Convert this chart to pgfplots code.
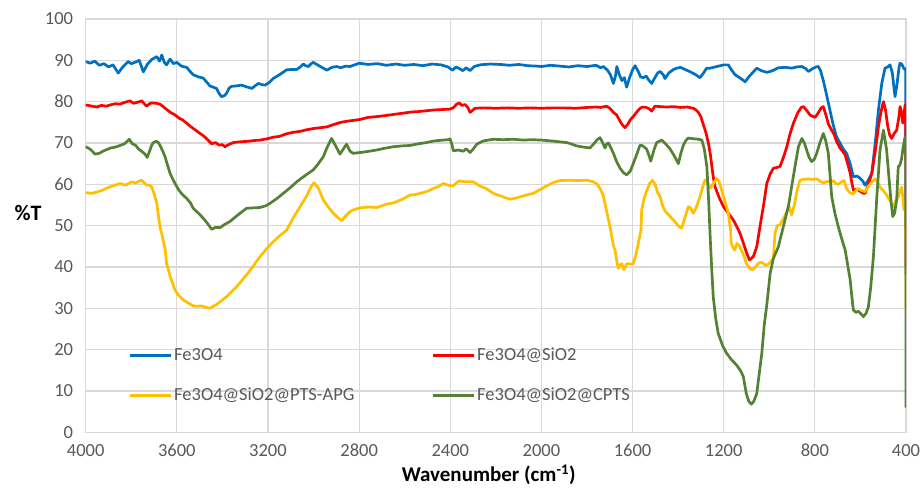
\documentclass[border=0pt]{standalone}
\usepackage{fontspec}
\setmainfont{Carlito}
\usepackage{pgfplots}
\usepackage{pgfplotstable}
\pgfplotsset{compat=1.18}
\definecolor{cblue}{HTML}{0070C0}
\definecolor{cred}{HTML}{FF0000}
\definecolor{cyellow}{HTML}{FFC000}
\definecolor{cgreen}{HTML}{548235}
\definecolor{gridgray}{HTML}{D9D9D9}
\definecolor{labelgray}{HTML}{595959}

\pgfplotstableread{
x y
4000 89.7
3980 89.3
3960 89.8
3940 88.8
3920 89.2
3900 88.4
3880 88.9
3857 86.9
3840 88.2
3814 89.7
3800 89.2
3780 89.6
3765 90.0
3747 87.2
3730 89.0
3710 90.2
3688 90.9
3676 89.8
3666 91.3
3655 89.5
3645 88.9
3630 90.3
3615 89.2
3600 89.5
3580 88.6
3557 88.3
3540 87.2
3528 86.5
3505 86.0
3484 85.7
3470 84.8
3455 83.8
3440 83.5
3426 83.2
3415 82.0
3404 81.2
3390 81.5
3382 82.0
3370 83.3
3360 83.7
3340 83.8
3316 84.0
3295 83.6
3271 83.2
3255 83.9
3242 84.4
3225 84.1
3213 84.0
3195 84.6
3177 85.6
3150 86.5
3118 87.7
3095 87.8
3074 87.8
3060 88.3
3045 89.1
3035 88.7
3023 88.5
3010 89.2
3001 89.5
2980 88.8
2960 88.2
2942 87.6
2920 88.3
2898 88.5
2880 88.2
2860 88.6
2840 88.5
2820 88.9
2800 89.3
2760 89.0
2720 89.2
2680 88.8
2640 89.1
2600 88.8
2560 89.0
2520 88.7
2480 89.1
2440 88.9
2410 88.4
2390 87.6
2375 88.4
2360 88.0
2345 87.5
2330 88.2
2313 87.5
2295 88.5
2270 88.9
2225 89.1
2180 89.0
2140 88.8
2100 89.0
2060 88.7
2020 88.6
2000 88.5
1960 88.8
1920 88.6
1880 88.4
1840 88.7
1800 88.5
1760 88.8
1740 88.2
1728 88.5
1710 87.6
1697 86.5
1684 84.4
1675 86.2
1669 88.5
1660 86.8
1647 85.1
1636 85.8
1626 83.5
1615 85.5
1600 87.7
1589 88.7
1575 87.3
1565 86.0
1553 85.8
1540 86.2
1530 85.3
1516 84.4
1500 86.0
1489 87.0
1479 87.3
1465 86.5
1458 85.6
1440 87.0
1420 87.8
1406 88.1
1390 88.3
1370 87.8
1350 87.3
1325 86.6
1304 85.8
1290 86.8
1275 88.1
1260 88.1
1230 88.5
1200 88.9
1180 88.9
1165 87.6
1150 86.5
1130 85.8
1115 85.2
1106 84.8
1090 86.0
1070 87.2
1055 88.1
1035 87.5
1010 87.1
990 87.4
960 88.2
930 88.3
901 88.1
880 88.4
857 88.5
840 88.0
828 87.3
810 88.0
795 88.4
784 88.5
775 87.5
763 85.1
750 82.0
734 78.0
720 74.5
705 71.5
690 70.0
675 68.5
661 67.5
645 65.0
631 61.8
615 62.0
602 61.5
590 60.8
580 59.8
565 61.0
550 62.7
535 70.0
521 78.0
506 84.5
492 88.1
480 88.4
470 88.9
460 87.0
452 83.0
448 81.2
440 84.0
430 88.5
426 89.3
418 89.0
412 88.3
404 87.7
401 88.0
400 38.0
}\tblue

\pgfplotstableread{
x y
4000 79.2
3980 79.0
3952 78.7
3930 79.1
3910 78.9
3893 79.2
3870 79.5
3850 79.4
3830 79.8
3806 80.2
3790 79.6
3770 79.9
3754 80.2
3743 79.5
3733 78.9
3720 79.5
3711 79.7
3690 79.6
3674 79.4
3660 78.8
3640 77.9
3625 77.3
3608 76.8
3590 76.0
3575 75.6
3557 74.8
3540 74.0
3520 73.2
3498 72.3
3480 71.6
3465 70.8
3447 69.8
3430 70.1
3415 69.5
3400 69.6
3389 69.1
3370 69.7
3352 70.1
3320 70.3
3290 70.4
3260 70.6
3235 70.7
3205 71.0
3177 71.4
3150 71.6
3120 72.2
3089 72.6
3060 72.8
3030 73.2
3000 73.5
2970 73.7
2942 73.9
2910 74.5
2880 75.0
2850 75.3
2820 75.5
2796 75.7
2760 76.2
2720 76.4
2690 76.6
2650 76.9
2610 77.2
2570 77.5
2540 77.6
2506 77.8
2470 78.0
2430 78.1
2401 78.2
2385 78.6
2372 79.4
2360 79.7
2350 79.1
2335 79.3
2322 78.5
2313 77.4
2300 78.0
2291 78.4
2250 78.5
2200 78.4
2150 78.5
2100 78.4
2050 78.5
2000 78.4
1950 78.5
1900 78.5
1850 78.4
1800 78.6
1760 78.7
1740 78.6
1714 78.9
1700 78.4
1684 77.4
1670 76.8
1655 75.3
1645 74.4
1633 73.7
1620 74.6
1610 75.6
1597 76.4
1580 77.6
1565 78.5
1553 78.7
1540 78.6
1525 78.2
1516 77.7
1508 78.4
1502 78.9
1480 78.8
1450 78.7
1420 78.8
1390 78.6
1360 78.7
1333 78.4
1322 78.0
1311 77.4
1300 76.3
1289 74.4
1278 72.5
1267 69.9
1258 67.0
1252 64.3
1245 61.5
1238 59.4
1220 56.8
1201 54.6
1180 53.0
1158 51.4
1143 49.8
1128 48.1
1115 46.0
1100 43.5
1087 41.7
1070 42.5
1055 44.9
1041 49.7
1025 55.0
1011 60.2
996 62.5
982 63.9
965 64.1
953 64.3
938 66.5
923 69.1
910 72.0
894 74.8
875 77.3
860 78.6
850 78.8
835 77.8
820 76.7
799 76.2
785 77.3
772 78.5
763 78.8
750 76.5
740 74.5
726 73.1
715 72.0
704 70.3
690 68.8
678 68.0
667 67.1
656 65.0
645 62.7
638 60.5
631 58.6
615 58.8
600 58.3
590 57.9
580 57.8
565 60.0
550 62.7
535 68.0
521 73.9
510 77.5
499 80.0
490 78.0
480 74.0
472 72.0
463 71.1
452 72.3
441 73.1
432 76.0
426 78.8
420 77.5
414 74.8
409 77.0
404 79.2
401 79.0
400 40.0
}\tred

\pgfplotstableread{
x y
4000 58.0
3975 57.8
3952 58.1
3930 58.5
3910 59.0
3893 59.4
3870 59.8
3849 60.2
3825 59.8
3798 60.6
3780 60.3
3765 60.8
3754 61.0
3745 60.5
3733 59.8
3720 59.8
3711 59.4
3700 57.8
3688 55.4
3674 49.7
3662 47.0
3652 44.5
3645 40.9
3628 37.5
3608 34.4
3590 33.0
3572 32.0
3550 31.3
3528 30.6
3510 30.5
3492 30.6
3470 30.2
3455 30.0
3440 30.5
3426 30.9
3405 31.8
3382 32.8
3360 34.0
3338 35.2
3315 36.7
3294 38.1
3265 40.2
3235 42.5
3205 44.5
3177 46.1
3150 47.5
3118 48.9
3090 51.8
3059 54.6
3030 57.2
3010 59.5
2998 60.4
2980 59.2
2957 56.2
2935 54.5
2913 53.0
2895 52.0
2876 51.2
2860 52.3
2840 53.4
2826 53.8
2796 54.3
2760 54.5
2723 54.4
2700 54.8
2679 55.2
2650 55.5
2610 56.4
2577 57.4
2555 57.5
2533 57.8
2500 58.3
2474 59.0
2450 59.5
2431 60.2
2410 59.8
2387 59.6
2370 60.5
2357 60.8
2330 60.6
2299 60.6
2270 59.6
2240 58.9
2211 57.8
2180 57.2
2160 56.8
2138 56.4
2110 56.7
2079 57.2
2060 57.5
2036 57.8
2000 58.9
1977 59.6
1950 60.4
1918 60.9
1880 61.0
1840 60.9
1800 61.0
1772 60.6
1755 60.0
1743 59.0
1730 57.5
1721 55.4
1710 52.5
1699 49.7
1684 45.2
1677 44.1
1668 41.0
1662 39.7
1655 40.5
1647 40.8
1640 39.4
1636 39.5
1628 40.6
1619 40.8
1608 40.7
1597 40.8
1585 43.0
1575 45.7
1563 49.0
1560 53.8
1550 56.5
1538 58.4
1525 60.2
1512 61.0
1500 59.8
1490 58.0
1479 57.0
1468 54.8
1458 53.6
1440 52.5
1421 51.4
1400 50.0
1390 49.5
1384 49.4
1370 52.0
1355 54.6
1345 54.2
1333 53.0
1320 54.5
1304 57.0
1290 59.8
1282 61.0
1270 60.5
1260 59.0
1245 60.2
1231 61.4
1220 60.6
1209 58.6
1195 56.0
1180 53.0
1170 49.0
1167 45.7
1160 44.8
1152 44.1
1142 45.7
1130 45.0
1123 44.1
1110 42.5
1101 40.9
1085 39.6
1074 39.3
1060 40.0
1049 40.8
1038 41.2
1027 40.9
1015 40.4
1006 40.6
995 41.2
982 42.1
975 48.1
965 50.0
953 50.2
940 51.5
923 53.4
912 54.5
902 52.6
890 55.0
878 58.5
865 61.0
850 61.2
830 61.3
810 61.2
792 61.3
778 60.8
763 60.3
745 60.7
730 60.5
719 60.9
708 60.2
697 60.0
685 60.5
672 60.9
661 59.0
647 58.0
632 57.6
620 58.5
610 59.0
595 58.5
580 58.2
565 59.5
550 60.5
536 61.3
525 60.5
514 59.3
500 58.5
485 57.4
470 56.0
456 54.6
445 56.0
434 57.0
426 58.5
419 59.3
414 57.0
409 53.8
404 55.0
401 56.0
400 30.0
}\tyellow

\pgfplotstableread{
x y
4000 69.1
3980 68.5
3959 67.3
3940 67.5
3925 68.0
3908 68.4
3890 68.8
3870 69.0
3849 69.4
3830 69.8
3820 70.3
3809 70.9
3795 69.8
3780 69.4
3769 68.6
3750 67.8
3738 67.2
3730 66.5
3720 68.0
3710 69.5
3703 70.1
3690 70.4
3681 70.1
3670 69.0
3660 67.8
3652 66.7
3640 64.5
3630 62.7
3620 61.5
3608 60.2
3590 58.5
3575 57.5
3557 56.6
3540 55.5
3528 54.2
3505 53.0
3484 51.8
3465 50.5
3447 49.1
3430 49.6
3411 49.5
3390 50.3
3367 51.0
3345 52.0
3323 53.0
3294 54.2
3265 54.3
3235 54.4
3210 54.8
3191 55.4
3160 56.6
3133 57.8
3100 59.3
3074 60.6
3040 62.0
3001 63.5
2980 64.9
2957 66.7
2940 69.0
2921 71.1
2905 69.5
2884 67.3
2870 68.5
2855 69.7
2840 68.0
2826 67.5
2780 67.8
2723 68.3
2690 68.7
2650 69.1
2610 69.3
2577 69.4
2540 69.8
2506 70.1
2470 70.5
2431 70.7
2410 70.8
2401 71.0
2392 69.5
2387 68.1
2365 68.3
2343 68.0
2330 68.6
2313 67.7
2300 68.5
2284 69.7
2270 70.1
2255 70.5
2211 70.9
2170 70.8
2123 70.9
2080 70.7
2040 70.8
2000 70.7
1977 70.6
1940 70.4
1889 70.1
1870 69.8
1846 69.3
1815 69.0
1787 68.8
1770 69.8
1755 70.8
1743 71.3
1735 70.5
1721 68.8
1713 69.8
1706 70.0
1695 68.8
1684 67.5
1670 65.5
1655 63.9
1640 62.8
1626 62.3
1610 63.2
1597 65.0
1580 67.5
1567 69.5
1555 69.3
1538 68.5
1528 67.0
1520 65.6
1505 68.5
1494 70.1
1472 70.7
1455 69.8
1436 68.6
1418 67.0
1399 65.0
1388 67.5
1377 69.5
1365 70.7
1355 71.2
1330 71.0
1310 70.9
1296 70.7
1285 68.5
1274 64.3
1266 56.0
1260 48.1
1253 40.0
1246 32.8
1235 27.5
1224 23.9
1205 21.0
1187 19.1
1165 17.5
1144 16.3
1125 14.8
1114 13.5
1101 9.4
1090 7.5
1079 6.8
1068 7.5
1055 9.4
1033 19.0
1022 26.0
1011 30.8
996 38.5
982 42.1
960 44.9
953 46.5
931 51.4
915 55.0
902 59.4
885 65.0
872 69.1
857 71.1
846 70.0
836 68.3
825 66.5
814 65.5
803 66.0
792 67.5
778 70.0
763 72.3
752 70.5
741 67.5
733 62.0
726 57.0
712 53.0
697 49.7
682 46.8
667 44.1
656 40.5
645 36.9
638 33.0
631 29.6
620 29.0
610 29.3
600 28.8
587 28.0
575 28.8
565 30.4
555 35.0
543 42.5
528 57.0
514 68.3
499 73.1
485 68.3
477 63.0
470 58.6
464 55.0
458 52.2
450 53.0
441 56.2
434 64.3
428 64.5
420 66.0
412 69.1
404 71.5
401 71.0
400 6.0
}\tgreen

\begin{document}
\begin{tikzpicture}
\begin{axis}[
  scale only axis, width=820.3pt, height=413.3pt,
  x dir=reverse, xmin=400, xmax=4000, ymin=0, ymax=100,
  xtick={400,800,...,4000}, ytick={0,10,...,100},
  grid=major, major grid style={draw=gridgray, line width=1.1pt},
  axis line style={draw=gridgray, line width=1.1pt},
  major tick length=0pt,
  tick label style={font=\fontsize{18.5}{20}\selectfont, text=labelgray},
  /pgf/number format/assume math mode=true,
  /pgf/number format/1000 sep={},
  xticklabel style={anchor=base, inner sep=0pt, yshift=-23.7pt},
  yticklabel style={anchor=east, inner sep=0pt, xshift=-12.4pt},
  xlabel={Wavenumber (cm\textsuperscript{-1})},
  xlabel style={at={(axis description cs:0.4913,0)}, anchor=base, inner sep=0pt, yshift=-49.5pt, font=\bfseries\fontsize{21}{24}\selectfont},
  ylabel={\%T},
  ylabel style={rotate=-90, at={(axis description cs:0,0.53)}, anchor=center, inner sep=0pt, xshift=-57.7pt, font=\bfseries\fontsize{22}{24}\selectfont},
  legend columns=2, legend cell align=left,
  legend image code/.code={\draw[#1, line width=2.7pt] (0pt,0pt) -- (41pt,0pt);},
  legend style={draw=none, fill=none, inner sep=0pt, outer sep=0pt,
    at={(axis description cs:0.0528,0.21)}, anchor=north west,
    font=\fontsize{18.5}{20}\selectfont, text=labelgray,
    nodes={inner sep=1.5pt, text height=13pt, text depth=4pt},
    row sep=20pt,
    /tikz/every even column/.append style={column sep=76pt}},
]
\addplot[cblue, line width=2.7pt, line join=round] table {\tblue};
\addlegendentry{Fe3O4}
\addplot[cred, line width=2.7pt, line join=round] table {\tred};
\addlegendentry{Fe3O4@SiO2}
\addplot[cyellow, line width=2.7pt, line join=round] table {\tyellow};
\addlegendentry{Fe3O4@SiO2@PTS-APG}
\addplot[cgreen, line width=2.7pt, line join=round] table {\tgreen};
\addlegendentry{Fe3O4@SiO2@CPTS}
\end{axis}
\pgfresetboundingbox
\path[use as bounding box] (-85.7pt,-62.7pt) rectangle (834.3pt,432.3pt);
\end{tikzpicture}
\end{document}
